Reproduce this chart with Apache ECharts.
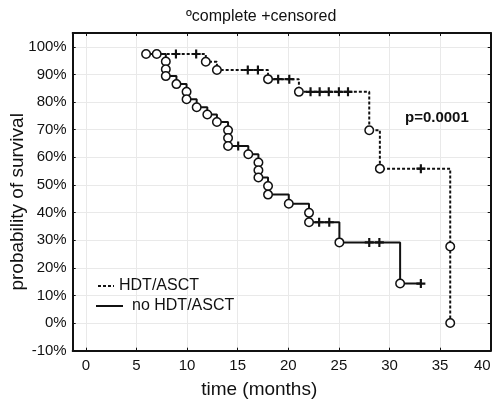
<!DOCTYPE html>
<html><head><meta charset="utf-8">
<script src="https://cdn.jsdelivr.net/npm/echarts@6/dist/echarts.min.js"></script>
<style>html,body{margin:0;padding:0;background:#fff}#c{width:492px;height:399px}</style>
</head><body><div id="c"></div>
<script>
// ---- data ----
const xTicks = [0, 5, 10, 15, 20, 25, 30, 35, 40];
const yTicks = [-10, 0, 10, 20, 30, 40, 50, 60, 70, 80, 90, 100];

// HDT/ASCT (dotted)
const hdtEventT  = [7.0, 11.85, 12.95, 18.0, 21.05, 28.0, 29.05, 36.0, 36.0];
const hdtEventS  = [97.4, 94.6, 91.6, 88.3, 83.7, 69.8, 55.9, 27.7, 0];
const hdtCensorT = [8.9, 10.9, 16.0, 17.0, 19.0, 20.1, 22.2, 23.1, 24.0, 25.0, 25.9, 33.1];
const hdtCensorS = [97.4, 97.4, 91.6, 91.6, 88.3, 88.3, 83.7, 83.7, 83.7, 83.7, 83.7, 55.9];

// no HDT/ASCT (solid)
const noEventT  = [5.95, 7.9, 7.9, 7.9, 8.95, 9.95, 9.95, 10.95, 12.0, 12.95, 14.05, 14.05, 14.05,
                   16.05, 17.05, 17.05, 17.05, 18.0, 18.0, 20.05, 22.05, 22.05, 25.05, 31.05];
const noEventS  = [97.4, 94.7, 91.9, 89.4, 86.5, 83.7, 81.0, 78.1, 75.5, 72.8, 69.8, 67.0, 64.1,
                   61.1, 58.1, 55.3, 52.7, 49.6, 46.5, 43.2, 39.9, 36.5, 29.2, 14.3];
const noCensorT = [15.05, 23.05, 24.05, 28.0, 29.0, 33.1];
const noCensorS = [64.1, 36.5, 36.5, 29.2, 29.2, 14.3];

const seriesNames = ['HDT/ASCT', 'no HDT/ASCT'];
const titleText = 'ºcomplete +censored';
const pText = 'p=0.0001';

// ---- build ----
function pairs(t, s) { return t.map((v, i) => [v, s[i]]); }
function steps(eT, eS, cT, cS) {
  const p = pairs(eT, eS).concat(pairs(cT, cS));
  p.sort((a, b) => a[0] - b[0] || b[1] - a[1]);
  return p;
}
const FONT = 'Liberation Sans, Arial, sans-serif';
const INK = '#111';
const crossPath = 'path://M3.8,0 H6.2 V3.8 H10 V6.2 H6.2 V10 H3.8 V6.2 H0 V3.8 H3.8 Z';

const circleStyle = { color: '#fff', borderColor: INK, borderWidth: 1.5, opacity: 1 };

const chart = echarts.init(document.getElementById('c'), null, { renderer: 'canvas' });
chart.setOption({
  animation: false,
  textStyle: { fontFamily: FONT, color: INK },
  title: [
    { text: titleText, left: 186, top: 9, padding: 0,
      textStyle: { fontFamily: FONT, fontSize: 16, fontWeight: 'normal', color: INK } },
    { text: pText, left: 405, top: 110, padding: 0,
      textStyle: { fontFamily: FONT, fontSize: 15, fontWeight: 'bold', color: INK } }
  ],
  legend: [
    { data: [seriesNames[0]], left: 97, top: 278, itemWidth: 16, itemHeight: 14, padding: 0,
      itemStyle: { opacity: 0 },
      textStyle: { fontFamily: FONT, fontSize: 16, color: INK } },
    { data: [seriesNames[1]], left: 95, top: 298, itemWidth: 27, itemHeight: 14, padding: 0,
      itemStyle: { opacity: 0 },
      textStyle: { fontFamily: FONT, fontSize: 16, color: INK, padding: [0, 0, 0, 4] } }
  ],
  grid: { left: 72.7, right: 1.3, top: 33, bottom: 48.3, containLabel: false, outerBoundsMode: 'none' },
  xAxis: [
    { type: 'value', min: -1.3, max: 40, position: 'bottom',
      name: 'time (months)', nameLocation: 'middle', nameGap: 30, nameMoveOverlap: false,
      nameTextStyle: { fontFamily: FONT, fontSize: 19, color: INK, padding: [0, 45, 0, 0] },
      axisLine: { show: true, onZero: false, lineStyle: { color: INK, width: 2 } },
      axisTick: { show: true, inside: true, length: 3, customValues: xTicks, lineStyle: { color: INK } },
      axisLabel: { customValues: xTicks, fontFamily: FONT, fontSize: 15, color: INK, margin: 8, alignMaxLabel: 'right' },
      splitLine: { show: true, lineStyle: { color: '#e9e9e9', width: 1 } } },
    { type: 'value', min: -1.3, max: 40, position: 'top',
      axisLine: { show: true, onZero: false, lineStyle: { color: INK, width: 2 } },
      axisTick: { show: true, inside: true, length: 3, customValues: xTicks, lineStyle: { color: INK } },
      axisLabel: { show: false }, splitLine: { show: false } }
  ],
  yAxis: [
    { type: 'value', min: -10, max: 105, interval: 10, position: 'left',
      name: 'probability of survival', nameLocation: 'middle', nameGap: 45, nameMoveOverlap: false,
      nameTextStyle: { fontFamily: FONT, fontSize: 19, color: INK, padding: [0, 20, 0, 0] },
      axisLine: { show: true, onZero: false, lineStyle: { color: INK, width: 2 } },
      axisTick: { show: true, inside: true, length: 3, customValues: yTicks, lineStyle: { color: INK } },
      axisLabel: { customValues: yTicks, formatter: '{value}%', fontFamily: FONT, fontSize: 15, color: INK, margin: 6 },
      splitLine: { show: true, lineStyle: { color: '#e9e9e9', width: 1 } } },
    { type: 'value', min: -10, max: 105, interval: 10, position: 'right',
      axisLine: { show: true, onZero: false, lineStyle: { color: INK, width: 2 } },
      axisTick: { show: true, inside: true, length: 3, customValues: yTicks, lineStyle: { color: INK } },
      axisLabel: { show: false }, splitLine: { show: false } }
  ],
  series: [
    { name: seriesNames[0], type: 'line', step: 'end', symbol: 'none', z: 2,
      data: steps(hdtEventT, hdtEventS, hdtCensorT, hdtCensorS),
      itemStyle: { color: INK },
      lineStyle: { color: INK, width: 2, type: [3, 2] } },
    { name: seriesNames[1], type: 'line', step: 'end', symbol: 'none', z: 2,
      data: steps(noEventT, noEventS, noCensorT, noCensorS),
      itemStyle: { color: INK },
      lineStyle: { color: INK, width: 2, type: 'solid' } },
    { name: 'hdt-complete', type: 'scatter', symbol: 'circle', symbolSize: 8.5, z: 4,
      data: pairs(hdtEventT, hdtEventS), itemStyle: circleStyle },
    { name: 'no-complete', type: 'scatter', symbol: 'circle', symbolSize: 8.5, z: 4,
      data: pairs(noEventT, noEventS), itemStyle: circleStyle },
    { name: 'hdt-censored', type: 'scatter', symbol: crossPath, symbolSize: 9, z: 5,
      data: pairs(hdtCensorT, hdtCensorS), itemStyle: { color: INK, opacity: 1 } },
    { name: 'no-censored', type: 'scatter', symbol: crossPath, symbolSize: 9, z: 5,
      data: pairs(noCensorT, noCensorS), itemStyle: { color: INK, opacity: 1 } }
  ]
});
</script></body></html>
